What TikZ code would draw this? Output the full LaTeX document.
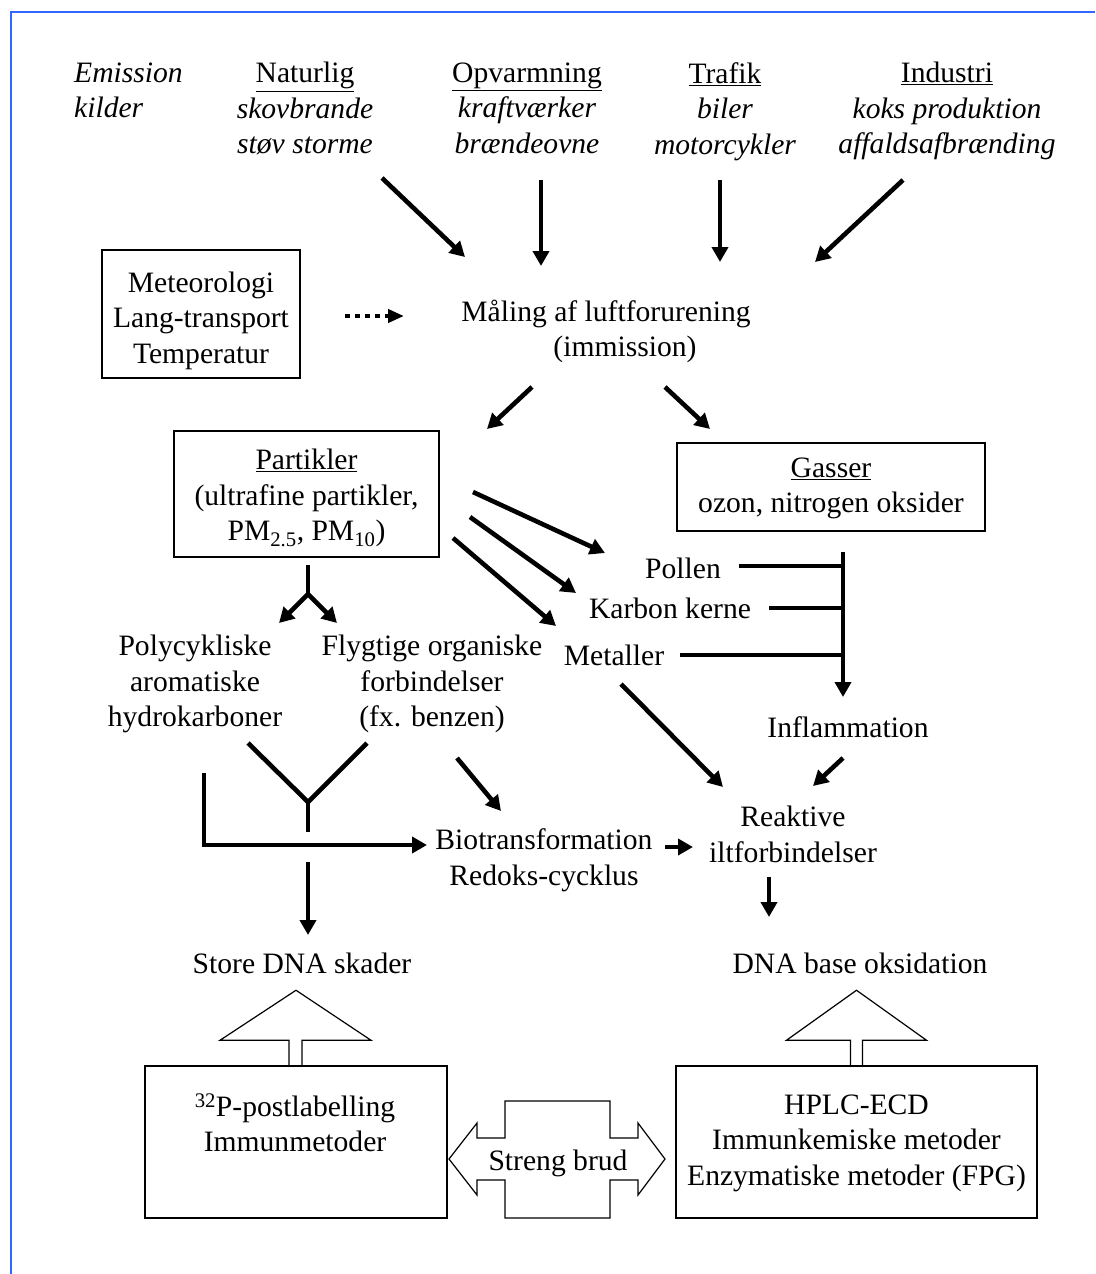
\documentclass[tikz,border=0pt]{standalone}
\usepackage{fontspec}
\setmainfont{Liberation Serif}
\usetikzlibrary{arrows.meta}
\definecolor{frameblue}{RGB}{51,102,255}
\tikzset{
  arr/.style={line width=4.6pt,-{Triangle[length=15pt,width=16pt]}},
  bar/.style={line width=4.6pt},
  box/.style={draw,line width=1.5pt,inner sep=0pt},
  txt/.style={align=center,inner sep=0pt,yshift=-2.5pt,
    execute at begin node=\strut,execute at end node=\strut},
  hollow/.style={draw,line width=1.2pt,line join=miter},
}
\begin{document}
\fontsize{29.6pt}{35.5pt}\selectfont
\begin{tikzpicture}[x=1pt,y=-1pt]
  \useasboundingbox (0,0) rectangle (1095,1274);
  \draw[frameblue,line width=2.2pt] (11,1274) -- (11,12) -- (1095,12);

  % kilder
  \node[txt,align=left,anchor=west] (emission) at (74,93) {\textit{Emission}\\\textit{kilder}};
  \node[txt] (naturlig) at (305,111) {\underline{Naturlig}\\\textit{skovbrande}\\\textit{støv storme}};
  \node[txt] (opvarm) at (527,111) {\underline{Opvarmning}\\\textit{kraftværker}\\\textit{brændeovne}};
  \node[txt] (trafik) at (725,111) {\underline{Trafik}\\\textit{biler}\\\textit{motorcykler}};
  \node[txt] (industri) at (947,111) {\underline{Industri}\\\textit{koks produktion}\\\textit{affaldsafbrænding}};

  \node[box,minimum width=198pt,minimum height=128pt] (meteo) at (201,314) {};
  \node[txt] (meteotext) at (201,320.5) {Meteorologi\\Lang-transport\\Temperatur};
  \node[txt] (maaling) at (606,312) {Måling af luftforurening};
  \node[txt] (immission) at (625,347) {(immission)};

  \node[box,minimum width=265pt,minimum height=126pt] (partikler) at (306.5,494) {};
  \node[txt] (partiklertext) at (306.5,498)
    {\underline{Partikler}\\(ultrafine partikler,\\PM\textsubscript{2.5}, PM\textsubscript{10})};
  \node[box,minimum width=308pt,minimum height=88pt] (gasser) at (831,487) {};
  \node[txt] (gassertext) at (831,488) {\underline{Gasser}\\ozon, nitrogen oksider};

  \node[txt] (pollen) at (683,569) {Pollen};
  \node[txt] (karbon) at (670,609) {Karbon kerne};
  \node[txt] (metaller) at (614,656) {Metaller};
  \node[txt] (inflam) at (848,728) {Inflammation};

  \node[txt] (pah) at (195,684) {Polycykliske\\aromatiske\\hydrokarboner};
  \node[txt] (voc) at (432,684) {Flygtige organiske\\forbindelser\\(fx. benzen)};
  \node[txt] (biotrans) at (544,860) {Biotransformation\\Redoks-cycklus};
  \node[txt] (ros) at (793,837) {Reaktive\\iltforbindelser};

  \node[txt] (storedna) at (302,964) {Store DNA skader};
  \node[txt] (basedna) at (860,964) {DNA base oksidation};

  \node[box,minimum width=302pt,minimum height=152pt] (pbox) at (296,1142) {};
  \node[txt] (ptext) at (295,1125.5) {\textsuperscript{32}P-postlabelling\\Immunmetoder};
  \node[box,minimum width=361pt,minimum height=152pt] (hbox) at (856.5,1142) {};
  \node[txt] (htext) at (856.5,1143) {HPLC-ECD\\Immunkemiske metoder\\Enzymatiske metoder (FPG)};
  \node[txt] (streng) at (558,1161) {Streng brud};

  % arrow ends
  \path (382,178) coordinate (naturlig-out) (465,257) coordinate (maaling-in1)
        (541,180) coordinate (opvarm-out) (541,266) coordinate (maaling-in2)
        (720,180) coordinate (trafik-out) (720,262) coordinate (maaling-in3)
        (903,180) coordinate (industri-out) (815,262) coordinate (maaling-in4)
        (345,316) coordinate (meteo-out) (404,316) coordinate (maaling-in5)
        (532,387) coordinate (maaling-out1) (487,429) coordinate (partikler-in)
        (665,387) coordinate (maaling-out2) (710,429) coordinate (gasser-in)
        (308,565) coordinate (partikler-out) (308,594) coordinate (fork)
        (279,623) coordinate (pah-in) (337,623) coordinate (voc-in)
        (473,492) coordinate (partikler-out1) (605,553) coordinate (pollen-in)
        (470,517) coordinate (partikler-out2) (576,593) coordinate (karbon-in)
        (453,538) coordinate (partikler-out3) (556,626) coordinate (metaller-in)
        (739,566) coordinate (pollen-out) (769,608) coordinate (karbon-out)
        (680,655) coordinate (metaller-out)
        (843,552) coordinate (gasser-out) (843,566) coordinate (join1)
        (843,608) coordinate (join2) (843,655) coordinate (join3)
        (843,697) coordinate (inflam-in)
        (843,758) coordinate (inflam-out) (813,786) coordinate (ros-in1)
        (621,684) coordinate (metaller-out2) (723,787) coordinate (ros-in2)
        (665,847) coordinate (biotrans-out) (693,847) coordinate (ros-in3)
        (769,877) coordinate (ros-out) (769,917) coordinate (basedna-in)
        (248,743) coordinate (pah-out) (367,743) coordinate (voc-out)
        (308,802) coordinate (merge) (308,832) coordinate (merge-end)
        (204,773) coordinate (pah-out2) (204,845) coordinate (corner)
        (427,845) coordinate (biotrans-in1)
        (457,758) coordinate (voc-out2) (501,811) coordinate (biotrans-in2)
        (308,862) coordinate (storedna-out) (308,935) coordinate (storedna-in);

  \draw[arr] (naturlig-out) -- (maaling-in1);
  \draw[arr] (opvarm-out) -- (maaling-in2);
  \draw[arr] (trafik-out) -- (maaling-in3);
  \draw[arr] (industri-out) -- (maaling-in4);
  \draw[line width=4pt,dash pattern=on 5pt off 5pt,-{Triangle[length=16pt,width=13pt]}]
    (meteo-out) -- (maaling-in5);
  \draw[arr] (maaling-out1) -- (partikler-in);
  \draw[arr] (maaling-out2) -- (gasser-in);

  \draw[bar] (partikler-out) -- (fork);
  \draw[arr] (fork) -- (pah-in);
  \draw[arr] (fork) -- (voc-in);
  \draw[arr] (partikler-out1) -- (pollen-in);
  \draw[arr] (partikler-out2) -- (karbon-in);
  \draw[arr] (partikler-out3) -- (metaller-in);

  \draw[bar] (pollen-out) -- (join1);
  \draw[bar] (karbon-out) -- (join2);
  \draw[bar] (metaller-out) -- (join3);
  \draw[arr] (gasser-out) -- (inflam-in);
  \draw[arr] (inflam-out) -- (ros-in1);
  \draw[arr] (metaller-out2) -- (ros-in2);
  \draw[arr] (biotrans-out) -- (ros-in3);
  \draw[arr] (ros-out) -- (basedna-in);

  \draw[bar] (pah-out) -- (merge) -- (voc-out);
  \draw[bar] (merge) -- (merge-end);
  \draw[arr] (pah-out2) -- (corner) -- (biotrans-in1);
  \draw[arr] (voc-out2) -- (biotrans-in2);
  \draw[arr] (storedna-out) -- (storedna-in);

  % hule pile
  \draw[hollow] ([xshift=-7pt]pbox.north) -- ++(0,-25) -- ++(-69,0) -- ++(76,-50)
    -- ++(75,50) -- ++(-69,0) -- ++(0,25);
  \draw[hollow] ([xshift=-6pt]hbox.north) -- ++(0,-25) -- ++(-64,0) -- ++(70,-50)
    -- ++(70,50) -- ++(-64,0) -- ++(0,25);
  \draw[hollow] (505,1101) -- (610,1101) -- (610,1138) -- (638,1138) -- (638,1123)
    -- (665,1159) -- (638,1195) -- (638,1180) -- (610,1180) -- (610,1218)
    -- (505,1218) -- (505,1180) -- (477,1180) -- (477,1195) -- (449,1159)
    -- (477,1123) -- (477,1138) -- (505,1138) -- cycle;
\end{tikzpicture}
\end{document}
